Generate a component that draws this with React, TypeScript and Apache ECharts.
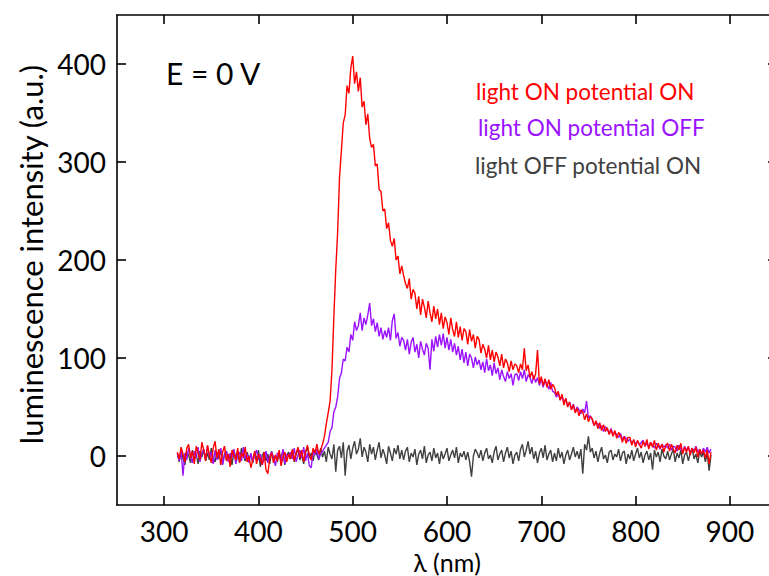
import React, { useEffect, useRef } from "react";
import * as echarts from "echarts";

// Spectra sampled every 2 nm starting at 314 nm
const START_NM = 314;
const STEP_NM = 2;

const X_TICKS = [300, 400, 500, 600, 700, 800, 900];
const Y_TICKS = [0, 100, 200, 300, 400];

const LIGHT_ON_POTENTIAL_ON = [
  4, -3, 9, 2, -6, 8, 12, -2, 5, -8, 10, 3, -4, 14, 6, -5, 11, 1, -7, 8,
  15, -2, 7, -9, 4, 10, -5, 2, -11, 6, 1, -4, 8, -7, 3, -1, 9, -6, 0, -12,
  -4, 5, -8, 2, -3, -9, 4, -14, -18, -2, 3, -7, 1, -5, 6, -10, -1, 4, -6, 2,
  -3, 7, -5, 3, 9, -2, 6, -6, 4, 11, 1, -4, 8, 3, 12, 2, 6, 12, 20, 33,
  44, 56, 88, 142, 190, 228, 284, 312, 340, 348, 378, 370, 396, 408, 380, 392, 372, 386, 356, 362,
  338, 349, 324, 315, 318, 296, 298, 272, 270, 250, 252, 232, 238, 220, 214, 222, 200, 204, 186, 194,
  184, 176, 171, 181, 160, 170, 166, 150, 163, 144, 160, 152, 141, 158, 146, 137, 153, 140, 150, 134,
  146, 130, 142, 136, 124, 141, 129, 122, 137, 121, 132, 118, 130, 127, 114, 129, 117, 124, 110, 122,
  119, 105, 114, 109, 100, 113, 98, 108, 96, 106, 101, 92, 104, 90, 99, 95, 86, 97, 88, 94,
  92, 85, 94, 88, 110, 87, 93, 80, 86, 78, 84, 108, 74, 81, 72, 79, 70, 78, 68, 73,
  70, 62, 66, 57, 63, 52, 59, 50, 55, 47, 52, 44, 49, 41, 47, 45, 37, 43, 35, 40,
  38, 31, 36, 28, 34, 26, 32, 25, 29, 22, 27, 20, 26, 18, 24, 21, 14, 20, 13, 19,
  19, 11, 17, 9, 16, 12, 8, 15, 10, 17, 7, 14, 9, 16, 6, 13, 8, 12, 4, 11,
  13, 5, 12, 7, 3, 11, 6, 13, 2, 9, 4, 10, 1, 8, 3, 9, -1, 7, 2, 6,
  -2, 6, -8, 4,
];

const LIGHT_ON_POTENTIAL_OFF = [
  2, -5, 6, -20, 3, -4, 8, 1, -7, 5, -2, 9, -6, 3, 7, -3, 10, -1, 4, -8,
  6, -4, 2, 8, -9, 1, 5, -6, 3, -2, 7, -8, 0, 4, -5, 9, -3, 2, -7, 3,
  -6, 1, 6, -4, 2, -9, -3, 5, -7, 0, 4, -2, -10, 3, 1, -5, 7, -8, 2, -1,
  4, -3, 8, -6, 1, 6, -2, 9, -5, 3, -10, -12, 5, 1, 7, -3, 2, 5, 8, 11,
  14, 25, 29, 45, 50, 60, 79, 85, 99, 97, 111, 106, 124, 118, 137, 128, 133, 146, 128, 141,
  134, 144, 156, 133, 140, 127, 136, 122, 131, 119, 128, 121, 131, 118, 138, 145, 120, 126, 112, 121,
  118, 108, 119, 104, 116, 121, 106, 114, 100, 117, 109, 103, 115, 110, 88, 119, 107, 122, 111, 124,
  113, 125, 110, 121, 108, 119, 106, 115, 103, 112, 98, 109, 95, 106, 92, 104, 100, 90, 101, 93,
  98, 88, 96, 85, 99, 87, 93, 82, 95, 84, 90, 78, 88, 81, 76, 86, 79, 84, 72, 83,
  84, 77, 86, 79, 88, 76, 83, 80, 74, 82, 75, 80, 72, 79, 70, 77, 74, 68, 75, 66,
  65, 60, 64, 57, 61, 55, 58, 51, 55, 48, 53, 45, 50, 47, 43, 48, 44, 56, 39, 41,
  37, 31, 34, 33, 28, 31, 25, 30, 27, 23, 28, 21, 24, 22, 19, 23, 17, 20, 18, 15,
  17, 13, 16, 12, 15, 11, 14, 16, 10, 13, 9, 14, 11, 8, 13, 10, 7, 12, 9, 11,
  8, 12, 6, 10, 9, 5, 11, 7, 4, 10, 6, 9, 3, 8, 5, 10, 4, 7, 2, 8,
  4, 9, 3, 7,
];

const LIGHT_OFF_POTENTIAL_ON = [
  3, -6, 5, -2, -9, 4, 1, -7, 6, -3, 2, -8, 5, -1, 7, -5, 3, -4, 8, -2,
  -6, 4, -3, 7, -8, 2, 5, -4, 1, -9, 6, -2, 3, -6, 8, 0, -5, 4, -3, 2,
  -7, 3, -4, 6, -11, 1, 4, -5, 2, -8, 5, -3, 0, -6, 3, -2, 6, -9, 1, 4,
  -3, 5, -6, 2, 7, -4, 1, -8, 4, 9, -2, 3, -5, 6, 1, -4, 8, -1, 5, -6,
  9, 2, -3, 12, -16, 6, 10, -2, 14, -20, 5, 11, -3, 8, 15, 2, 7, 18, -1, 9,
  4, -6, 12, 2, 9, -4, 6, 14, -2, 7, 1, -8, 10, 3, -5, 8, 2, 11, -3, 6,
  -4, 5, 9, -6, 3, -1, 7, -9, 2, 6, -3, 10, -7, 1, 4, -5, 8, -2, 3, -8,
  5, -3, 2, 8, -5, 1, 6, -2, 9, -7, 3, -1, 5, -4, 4, -6, -21, 0, 7, 3,
  -2, 6, -5, 3, 8, -3, 1, -7, 4, 10, -4, 2, 6, -6, 3, 9, -2, 5, -8, 1,
  4, -5, 7, 12, -1, 6, 15, 2, 9, -3, 5, -7, 3, 8, -2, 11, -4, 2, 6, -6,
  3, -5, 8, -2, 4, -8, 1, 6, -4, 2, 9, -1, 5, -3, 7, -18, 12, 6, 20, 4,
  8, -2, 5, -6, 3, 9, -3, 1, -7, 4, 6, -4, 2, -1, 7, -5, 3, 5, -8, 2,
  -3, 6, -5, 2, 8, -2, 4, -7, 1, 5, -4, 3, -14, 6, -1, 4, -6, 7, 0, -3,
  5, -4, 2, 7, -6, 3, -2, 6, -8, 1, 4, -5, 3, 8, -3, 2, -7, 5, -1, 4,
  -6, 3, -15, 1,
];

const SERIES_NAMES = ["light ON potential ON", "light ON potential OFF", "light OFF potential ON"];
const SERIES_COLORS = ["#ff0000", "#9b12ff", "#404040"];

const FONT = "Lato, 'Noto Sans', sans-serif";

export default function App() {
  const ref = useRef<HTMLDivElement>(null);

  useEffect(() => {
    document.body.style.margin = "0";
    const chart = echarts.init(ref.current!, null, { renderer: "svg" });

    const toPairs = (vals: number[]) => vals.map((v, i) => [START_NM + STEP_NM * i, v]);

    const line = { show: true, onZero: false, lineStyle: { color: "#000", width: 1.6 } };
    const tick = (values: number[]) => ({
      show: true,
      inside: true,
      length: 9,
      customValues: values,
      lineStyle: { color: "#000", width: 1.6 },
    });
    const label = (values: number[], margin: number) => ({
      show: true,
      customValues: values,
      margin,
      color: "#000",
      fontFamily: FONT,
      fontSize: 28,
    });

    const xRange = { type: "value", min: 250, max: 950 };
    const yRange = { type: "value", min: -50, max: 450 };

    const spectrum = (name: string, vals: number[], color: string) => ({
      name,
      type: "line",
      data: toPairs(vals),
      showSymbol: false,
      lineStyle: { color, width: 1.4 },
    });

    chart.setOption({
      animation: false,
      backgroundColor: "#fff",
      grid: { left: 117, top: 15, right: -8, bottom: 71, containLabel: false, outerBoundsMode: "none" },
      xAxis: [
        {
          ...xRange,
          position: "bottom",
          name: "λ (nm)",
          nameLocation: "middle",
          nameGap: 40,
          nameTextStyle: { color: "#000", fontFamily: FONT, fontSize: 25 },
          axisLine: line,
          axisTick: tick(X_TICKS),
          axisLabel: label(X_TICKS, 12),
          splitLine: { show: false },
        },
        {
          ...xRange,
          position: "top",
          axisLine: line,
          axisTick: tick(X_TICKS),
          axisLabel: { show: false },
          splitLine: { show: false },
        },
      ],
      yAxis: [
        {
          ...yRange,
          position: "left",
          name: "luminescence intensity (a.u.)",
          nameLocation: "middle",
          nameGap: 70,
          nameTextStyle: { color: "#000", fontFamily: FONT, fontSize: 31, padding: [0, 0, 0, 11] },
          axisLine: line,
          axisTick: tick(Y_TICKS),
          axisLabel: label(Y_TICKS, 11),
          splitLine: { show: false },
        },
        {
          ...yRange,
          position: "right",
          axisLine: line,
          axisTick: tick(Y_TICKS),
          axisLabel: { show: false },
          splitLine: { show: false },
        },
      ],
      series: [
        spectrum(SERIES_NAMES[2], LIGHT_OFF_POTENTIAL_ON, SERIES_COLORS[2]),
        spectrum(SERIES_NAMES[1], LIGHT_ON_POTENTIAL_OFF, SERIES_COLORS[1]),
        spectrum(SERIES_NAMES[0], LIGHT_ON_POTENTIAL_ON, SERIES_COLORS[0]),
      ],
      graphic: [
        {
          type: "text",
          x: 166,
          y: 73,
          style: { text: "E = 0 V", fill: "#000", fontFamily: FONT, fontSize: 30, verticalAlign: "middle" },
        },
        ...SERIES_NAMES.map((name, i) => ({
          type: "text",
          x: [476, 478, 475][i],
          y: [91, 127, 165][i],
          style: { text: name, fill: SERIES_COLORS[i], fontFamily: FONT, fontSize: 22.5, verticalAlign: "middle" },
        })),
      ],
    });

    return () => chart.dispose();
  }, []);

  return <div ref={ref} style={{ width: 769, height: 576 }} />;
}
